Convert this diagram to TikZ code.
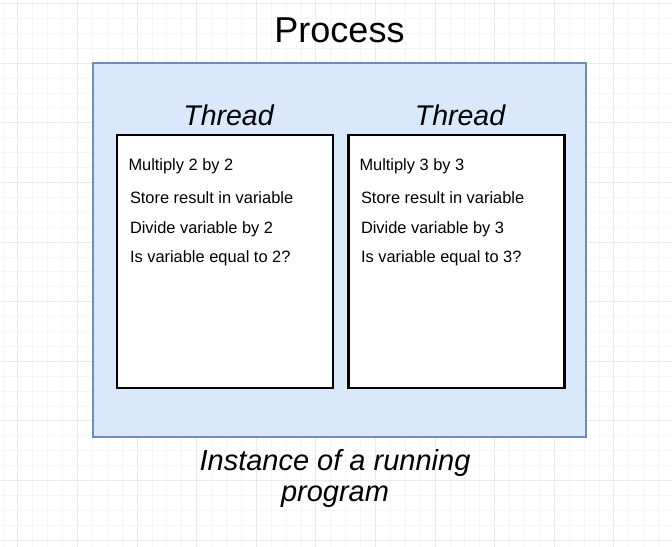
\documentclass[tikz,border=0pt]{standalone}
\usepackage{fontspec}
\setmainfont{Liberation Sans}
\definecolor{procfill}{HTML}{DAE8FC}
\definecolor{procline}{HTML}{6C8EBF}
\definecolor{gridminor}{RGB}{246,246,246}
\definecolor{gridmajor}{RGB}{234,234,234}
\begin{document}
\begin{tikzpicture}[x=1bp,y=-1bp,
  processbox/.style={draw=procline, fill=procfill, line width=2bp,
    minimum width=493bp, minimum height=374bp, inner sep=0pt},
  threadbox/.style={draw=black, fill=white, line width=2.6bp,
    minimum width=216bp, minimum height=253bp, inner sep=0pt},
  titletext/.style={anchor=base, inner sep=0pt, font=\fontsize{36bp}{40bp}\selectfont},
  threadtitle/.style={anchor=base, inner sep=0pt, font=\fontsize{28.5bp}{32bp}\selectfont\itshape},
  stepline/.style={anchor=base west, inner sep=0pt, font=\fontsize{16.4bp}{19bp}\selectfont},
  caption/.style={anchor=base, inner sep=0pt, align=center,
    font=\fontsize{29bp}{31.7bp}\selectfont\itshape},
]
\useasboundingbox (0,0) rectangle (672,547);
\fill[white] (0,0) rectangle (672,547);

% background grid: fine lines with a heavier line every fourth step
\foreach \i in {0,...,44} \draw[gridminor, line width=0.8bp] ({2.9+\i*14.9},0) -- ({2.9+\i*14.9},547);
\foreach \j in {0,...,36} \draw[gridminor, line width=0.8bp] (0,{3.6+\j*14.9}) -- (672,{3.6+\j*14.9});
\foreach \i in {0,...,11} \draw[gridmajor, line width=0.9bp] ({17.8+\i*59.6},0) -- ({17.8+\i*59.6},547);
\foreach \j in {0,...,9} \draw[gridmajor, line width=0.9bp] (0,{3.6+\j*59.6}) -- (672,{3.6+\j*59.6});

% process container
\node[processbox] (process) at (339.5,250) {};
\node[titletext] (processtitle) at (339.5,42.3) {Process};

% the two threads
\node[threadbox] (threadA) at (225,261.5) {};
\node[threadbox] (threadB) at (456.5,261.5) {};
\node[threadtitle] (threadAtitle) at (228.5,125.7) {Thread};
\node[threadtitle] (threadBtitle) at (460,125.7) {Thread};

% steps of the first thread
\node[stepline] (a1) at (128.3,170.7) {Multiply 2 by 2};
\node[stepline] (a2) at (129.8,203.3) {Store result in variable};
\node[stepline] (a3) at (129.8,233.3) {Divide variable by 2};
\node[stepline] (a4) at (129.8,262.7) {Is variable equal to 2?};

% steps of the second thread
\node[stepline] (b1) at (359.3,170.7) {Multiply 3 by 3};
\node[stepline] (b2) at (360.8,203.3) {Store result in variable};
\node[stepline] (b3) at (360.8,233.3) {Divide variable by 3};
\node[stepline] (b4) at (360.8,262.7) {Is variable equal to 3?};

% caption under the process (base anchor sits on the last line)
\node[caption] (caption) at (335,501.7) {Instance of a running\\program};
\end{tikzpicture}
\end{document}
